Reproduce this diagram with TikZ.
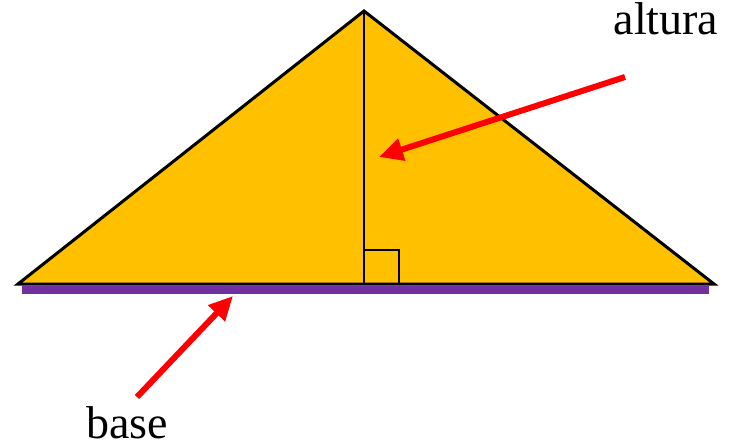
\documentclass[tikz,border=0pt]{standalone}
\usepackage{fontspec}
\setmainfont{Liberation Serif}
\usetikzlibrary{arrows.meta}
\definecolor{tri}{HTML}{FFC000}
\definecolor{purp}{HTML}{7030A0}
\tikzset{
  redarrow/.style={draw=red, line width=6pt, -{Triangle[length=24pt,width=22pt]}},
  lbl/.style={font=\fontsize{46}{50}\selectfont, inner sep=0pt, anchor=base}
}
\begin{document}
\begin{tikzpicture}[x=1pt,y=-1pt]
\useasboundingbox (0,0) rectangle (734,444);
\coordinate (A) at (364,11);
\coordinate (L) at (18,284);
\coordinate (R) at (714,284);
\coordinate (F) at (364,284);
% purple base
\fill[purp] (22,286) rectangle (709,294);
% triangle
\filldraw[fill=tri, draw=black, line width=3pt, line join=miter] (A) -- (L) -- (R) -- cycle;
% altitude
\draw[line width=1.5pt] (A) -- (F);
% right angle
\draw[line width=1.5pt] (364,284) -- (364,250) -- (399,250) -- (399,284);
% labels
\node[lbl] (alt) at (666,35) {altura};
\node[lbl] (bas) at (127,438) {base};
\coordinate (a1) at (625,77);
\coordinate (a2) at (379,157);
\coordinate (b1) at (137,397);
\coordinate (b2) at (233,296);
\draw[redarrow] (a1) -- (a2);
\draw[redarrow] (b1) -- (b2);
\end{tikzpicture}
\end{document}
